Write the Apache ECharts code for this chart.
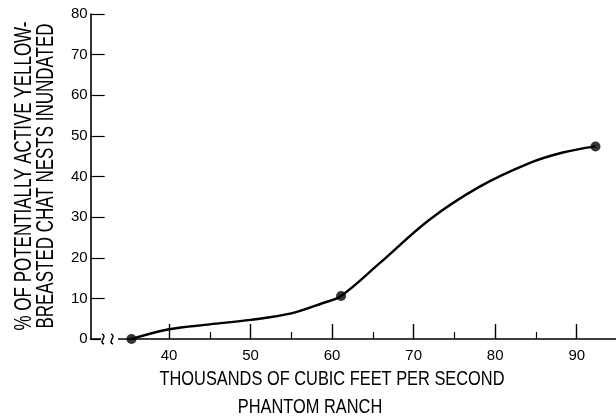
<!DOCTYPE html>
<html>
<head>
<meta charset="utf-8">
<script src="https://cdn.jsdelivr.net/npm/echarts@6/dist/echarts.min.js"></script>
<style>html,body{margin:0;padding:0;background:#fff}#c{width:616px;height:418px}</style>
</head>
<body>
<div id="c"></div>
<script>
// Observed points (flow in thousand cfs, % nests inundated)
const pointX = [35.4, 61.1, 92.3];
const pointY = [0, 10.6, 47.4];
// Hand-drawn curve
const curveX = [35.4, 40, 45, 50, 55, 58.8, 61.1, 65.8, 71.9, 78.1, 84.2, 88.3, 92.3];
const curveY = [0, 2.4, 3.6, 4.7, 6.3, 8.8, 10.6, 18.6, 29.3, 37.5, 43.3, 45.9, 47.4];
const xMajorTicks = [40, 50, 60, 70, 80, 90];
const xMinorTicks = [45, 55, 65, 75, 85, 95];
const yTicks = [0, 10, 20, 30, 40, 50, 60, 70, 80];
const xTitleLines = ['THOUSANDS OF CUBIC FEET PER SECOND', 'PHANTOM RANCH'];
const yTitleLines = ['% OF POTENTIALLY ACTIVE YELLOW-', 'BREASTED CHAT NESTS INUNDATED'];

const FONT = "'Liberation Sans', Arial, sans-serif";
const chart = echarts.init(document.getElementById('c'), null, {renderer: 'canvas'});
const zip = (a, b) => a.map((v, i) => [v, b[i]]);

// condensed lettering: measure and squeeze horizontally
const mctx = document.createElement('canvas').getContext('2d');
function widthOf(lines, size) {
  mctx.font = size + 'px ' + FONT;
  return Math.max.apply(null, lines.map(l => mctx.measureText(l).width));
}
const xTitleSize = 21, yTitleSize = 23;
const xScale = 345 / widthOf([xTitleLines[0]], xTitleSize);
const yScale = 309 / widthOf(yTitleLines, yTitleSize);

chart.setOption({
  animation: false,
  backgroundColor: '#fff',
  grid: {left: 90.7, right: -1.5, top: 14, bottom: 79, containLabel: false, outerBoundsMode: 'none'},
  xAxis: [{
    type: 'value', min: 30.4, max: 95,
    axisLine: {show: true, lineStyle: {color: '#000', width: 1.6}},
    axisTick: {show: true, inside: true, length: 15, customValues: xMajorTicks, lineStyle: {color: '#000', width: 1.4}},
    axisLabel: {show: true, customValues: xMajorTicks, color: '#000', fontFamily: FONT, fontSize: 15, margin: 9},
    splitLine: {show: false}
  }, {
    type: 'value', min: 30.4, max: 95, position: 'bottom',
    axisLine: {show: false},
    axisTick: {show: true, inside: true, length: 7, customValues: xMinorTicks, lineStyle: {color: '#000', width: 1.2}},
    axisLabel: {show: false},
    splitLine: {show: false}
  }],
  yAxis: {
    type: 'value', min: 0, max: 80, interval: 10,
    axisLine: {show: true, lineStyle: {color: '#000', width: 1.6}},
    axisTick: {show: true, inside: true, length: 14, lineStyle: {color: '#000', width: 1.2}},
    axisLabel: {color: '#000', fontFamily: FONT, fontSize: 15, margin: 3, customValues: yTicks},
    splitLine: {show: false}
  },
  series: [{
    type: 'line', data: zip(curveX, curveY), smooth: 0.35, showSymbol: false,
    lineStyle: {color: '#000', width: 2.4}, z: 2
  }, {
    type: 'scatter', data: zip(pointX, pointY), symbol: 'circle', symbolSize: 10,
    itemStyle: {color: '#000'}, z: 3
  }]
});

// Axis break marks on the x axis, positioned through the axis scale
const yAx = chart.convertToPixel({yAxisIndex: 0}, 0);
const bx = chart.convertToPixel({xAxisIndex: 0}, 32.4);
function squiggle(cx) {
  return {type: 'bezierCurve', shape: {x1: cx - 1, y1: yAx - 5, cpx1: cx + 5, cpy1: yAx - 3, cpx2: cx - 5, cpy2: yAx + 3, x2: cx + 1, y2: yAx + 5},
    style: {stroke: '#000', lineWidth: 1.5, fill: null}, z: 10};
}
chart.setOption({graphic: [
  {type: 'rect', shape: {x: bx - 6, y: yAx - 3, width: 17, height: 6}, style: {fill: '#fff'}, z: 9},
  squiggle(bx - 4), squiggle(bx + 5),
  {type: 'text', x: 332, y: 379.5, scaleX: xScale, z: 10,
   style: {text: xTitleLines[0], font: xTitleSize + 'px ' + FONT, fill: '#000',
           align: 'center', verticalAlign: 'middle'}},
  {type: 'text', x: 310, y: 407.5, scaleX: xScale, z: 10,
   style: {text: xTitleLines[1], font: xTitleSize + 'px ' + FONT, fill: '#000',
           align: 'center', verticalAlign: 'middle'}},
  {type: 'text', x: 35.5, y: 176, rotation: Math.PI / 2, scaleX: yScale, z: 10,
   style: {text: yTitleLines.join('\n'), font: yTitleSize + 'px ' + FONT, fill: '#000',
           align: 'center', verticalAlign: 'middle', lineHeight: 22}}
]});
</script>
</body>
</html>
